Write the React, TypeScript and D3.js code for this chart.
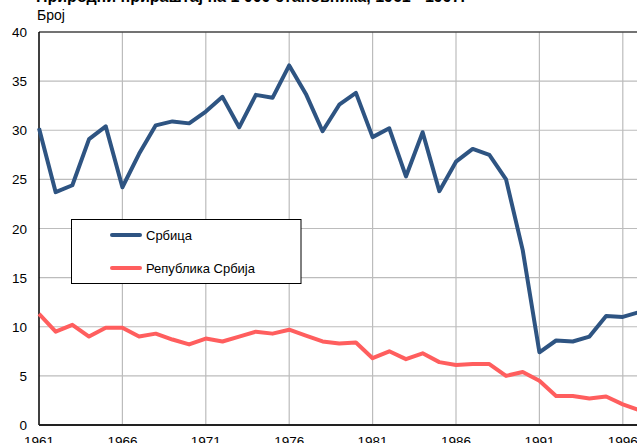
import React from 'react';
import * as d3 from 'd3';

const years = d3.range(1961, 1998);

const srbica = [
  30.2, 23.7, 24.4, 29.1, 30.4, 24.2, 27.6, 30.5, 30.9, 30.7,
  31.9, 33.4, 30.3, 33.6, 33.3, 36.6, 33.7, 29.9, 32.6, 33.8,
  29.3, 30.2, 25.3, 29.8, 23.8, 26.8, 28.1, 27.5, 25.0, 17.8,
  7.4, 8.6, 8.5, 9.0, 11.1, 11.0, 11.5,
];

const republika = [
  11.3, 9.5, 10.2, 9.0, 9.9, 9.9, 9.0, 9.3, 8.7, 8.2,
  8.8, 8.5, 9.0, 9.5, 9.3, 9.7, 9.1, 8.5, 8.3, 8.4,
  6.8, 7.5, 6.7, 7.3, 6.4, 6.1, 6.2, 6.2, 5.0, 5.4,
  4.5, 2.95, 2.95, 2.7, 2.9, 2.1, 1.5,
];

const xTicks = [1961, 1966, 1971, 1976, 1981, 1986, 1991, 1996];
const yTicks = [0, 5, 10, 15, 20, 25, 30, 35, 40];

const series = [
  { name: 'Србица', values: srbica, color: '#2E5482' },
  { name: 'Република Србија', values: republika, color: '#FF5E5E' },
];

const W = 637;
const H = 443;
const font = 'Arial, "Liberation Sans", sans-serif';

export default function App() {
  const x = d3.scaleLinear().domain([1961, 1997]).range([39, 39 + 36 * 16.68]);
  const y = d3.scaleLinear().domain([0, 40]).range([425, 32]);

  const line = d3.line<number>()
    .x((_, i) => x(years[i]))
    .y(d => y(d));

  return (
    <div style={{ position: 'absolute', left: 0, top: 0, width: W, height: H, overflow: 'hidden', background: '#fff' }}>
      <svg width={W} height={H} style={{ display: 'block', fontFamily: font }}>
        <text x={36} y={2} fontSize={16} fontWeight="bold" fill="#000">
          Природни прираштај на 1 000 становника, 1961 - 1997.
        </text>
        <text x={37} y={20} fontSize={14} fill="#000">Број</text>

        {/* grid */}
        {yTicks.filter(t => t > 0 && t < 40).map(t => (
          <line key={'gy' + t} x1={x(1961)} x2={x(1997)} y1={y(t)} y2={y(t)} stroke="#BCBCBC" strokeWidth={1.2} />
        ))}
        {xTicks.filter(t => t > 1961).map(t => (
          <line key={'gx' + t} x1={x(t)} x2={x(t)} y1={y(0)} y2={y(40)} stroke="#BCBCBC" strokeWidth={1.2} />
        ))}
        <line x1={x(1961)} x2={x(1997)} y1={y(40)} y2={y(40)} stroke="#444" strokeWidth={1.5} />

        {/* axes */}
        <line x1={x(1961)} x2={x(1961)} y1={y(0)} y2={y(40)} stroke="#000" strokeWidth={1.5} />
        <line x1={x(1961)} x2={x(1997)} y1={y(0)} y2={y(0)} stroke="#222" strokeWidth={2} />

        {yTicks.map(t => (
          <text key={'ly' + t} x={27} y={y(t) + 5} fontSize={13.5} textAnchor="end" fill="#000">{t}</text>
        ))}
        {xTicks.map(t => (
          <text key={'lx' + t} x={x(t)} y={446} fontSize={13.5} textAnchor="middle" fill="#000">{t}</text>
        ))}

        {series.map(s => (
          <path key={s.name} d={line(s.values) ?? ''} fill="none" stroke={s.color} strokeWidth={4} strokeLinejoin="round" />
        ))}

        {/* legend */}
        <rect x={71.5} y={219.5} width={229.5} height={64} fill="#fff" stroke="#000" strokeWidth={1} />
        {series.map((s, i) => (
          <g key={'lg' + s.name} transform={`translate(0,${235 + i * 33})`}>
            <line x1={112} x2={140} y1={0} y2={0} stroke={s.color} strokeWidth={4} strokeLinecap="round" />
            <text x={146} y={5} fontSize={13} fill="#000">{s.name}</text>
          </g>
        ))}
      </svg>
    </div>
  );
}
